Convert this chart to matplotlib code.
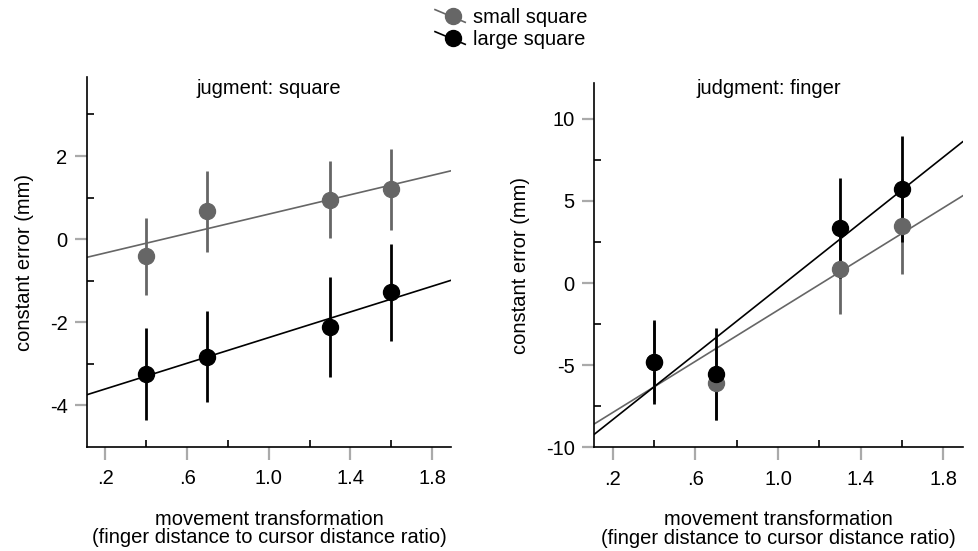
import numpy as np
import matplotlib.pyplot as plt
from matplotlib.lines import Line2D
from matplotlib.legend_handler import HandlerLine2D

plt.rcParams['font.family'] = ['Liberation Sans', 'DejaVu Sans']
plt.rcParams['font.size'] = 14.5

# movement transformation (finger / cursor distance ratio)
ratio = [0.4, 0.7, 1.3, 1.6]

# judgment: square
sq_small = [-0.41, 0.67, 0.95, 1.20]
sq_small_err = [0.93, 0.98, 0.93, 0.98]
sq_large = [-3.24, -2.83, -2.12, -1.28]
sq_large_err = [1.10, 1.09, 1.20, 1.17]

# judgment: finger
fi_small = [-4.78, -6.08, 0.83, 3.45]
fi_small_err = [2.40, 2.25, 2.73, 2.88]
fi_large = [-4.80, -5.55, 3.34, 5.74]
fi_large_err = [2.55, 2.80, 3.06, 3.24]

xticks = [0.2, 0.6, 1.0, 1.4, 1.8]
xticklabels = ['.2', '.6', '1.0', '1.4', '1.8']
xminor = [0.4, 0.8, 1.2, 1.6]

GRAY = '#666666'
TICK_GRAY = '#aaaaaa'


class DiagHandler(HandlerLine2D):
    # legend symbol: dot with a slanted line through it
    def create_artists(self, legend, orig_handle, xdescent, ydescent,
                       width, height, fontsize, trans):
        x0, x1 = -xdescent, -xdescent + width
        ym = height / 2 - ydescent
        c = orig_handle.get_color()
        line = Line2D([x0, x1], [ym + 0.45 * height, ym - 0.45 * height],
                      color=c, lw=1.2, transform=trans)
        dot = Line2D([x0 + 0.6 * width], [ym], marker='o', ms=11.5,
                     color=c, ls='none', transform=trans)
        return [line, dot]


def draw_panel(ax, small, small_err, large, large_err):
    ax.set_xlim(0.11, 1.893)
    for y, err, c in [(small, small_err, GRAY), (large, large_err, 'black')]:
        ax.errorbar(ratio, y, yerr=err, fmt='o', color=c, ms=11.5,
                    elinewidth=2, capsize=0, zorder=3)
        k, b = np.polyfit(ratio, y, 1)
        xs = np.array(ax.get_xlim())
        ax.plot(xs, k * xs + b, color=c, lw=1.2, zorder=2)
    ax.set_xlim(0.11, 1.893)


def style(ax, ylim, yticks, yminor, title, title_x, title_y):
    ax.set_ylim(ylim)
    ax.set_xticks(xticks)
    ax.set_xticklabels(xticklabels)
    ax.set_xticks(xminor, minor=True)
    ax.set_yticks(yticks)
    ax.set_yticklabels([str(v) for v in yticks])
    ax.set_yticks(yminor, minor=True)
    for s in ['top', 'right']:
        ax.spines[s].set_visible(False)
    for s in ['left', 'bottom']:
        ax.spines[s].set_linewidth(1.2)
    ax.tick_params(which='major', direction='out', length=9, width=1.6,
                   color=TICK_GRAY, labelcolor='black')
    ax.tick_params(axis='x', which='major', pad=7)
    ax.tick_params(axis='y', which='major', pad=5)
    ax.tick_params(which='minor', direction='in', length=5, width=1.2,
                   color='black')
    ax.text(title_x, title_y, title, transform=ax.transAxes,
            ha='center', va='center')
    ax.set_ylabel('constant error (mm)')
    ax.set_xlabel('movement transformation\n(finger distance to cursor distance ratio)',
                  linespacing=0.95)


fig = plt.figure(figsize=(9.79, 5.51), dpi=100)
ax1 = fig.add_axes([0.0889, 0.1887, 0.3718, 0.6715])
ax2 = fig.add_axes([0.607, 0.1882, 0.3763, 0.6617])

draw_panel(ax1, sq_small, sq_small_err, sq_large, sq_large_err)
draw_panel(ax2, fi_small, fi_small_err, fi_large, fi_large_err)

style(ax1, (-5, 3.9), [-4, -2, 0, 2], [-3, -1, 1, 3],
      'jugment: square', 0.5, 0.97)
style(ax2, (-10, 12.2), [-10, -5, 0, 5, 10], [-7.5, -2.5, 2.5, 7.5],
      'judgment: finger', 0.475, 0.985)

ax1.yaxis.set_label_coords(-0.146, 0.5)
ax2.yaxis.set_label_coords(-0.174, 0.5)
ax1.xaxis.set_label_coords(0.5, -0.17)
ax2.xaxis.set_label_coords(0.5, -0.173)

handles = [Line2D([], [], color=GRAY), Line2D([], [], color='black')]
fig.legend(handles, ['small square', 'large square'],
           loc='upper left', bbox_to_anchor=(435 / 979, 1 - 8 / 551),
           frameon=False, borderpad=0, borderaxespad=0,
           handlelength=1.5, handletextpad=0.4, labelspacing=0.15,
           handler_map={Line2D: DiagHandler()})

fig.savefig('out.png', dpi=100)
